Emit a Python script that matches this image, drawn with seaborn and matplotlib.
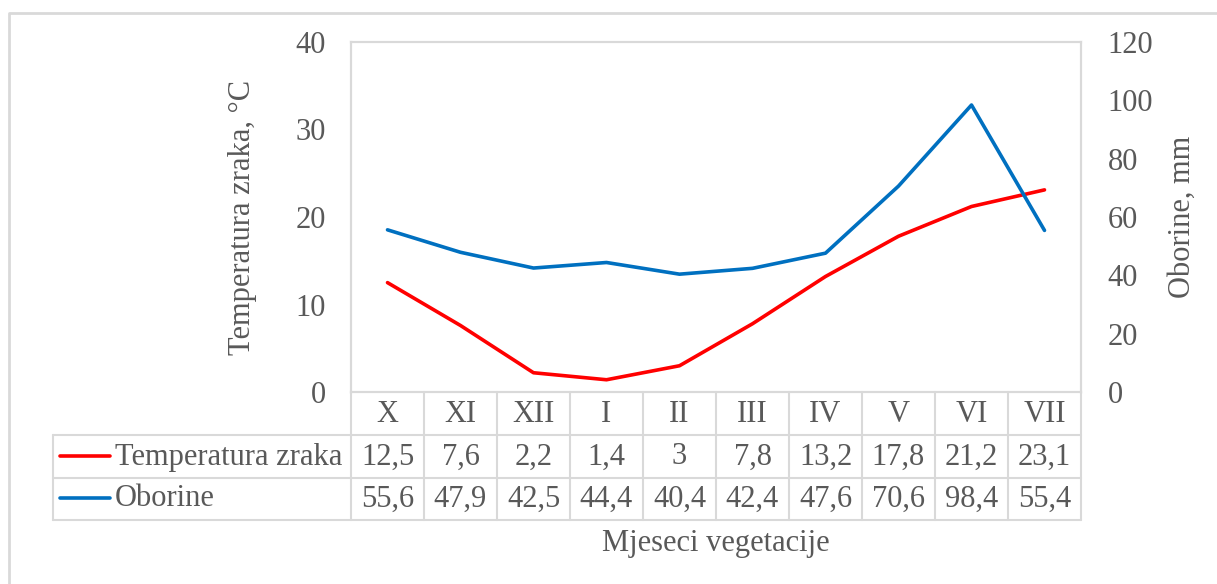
import matplotlib.pyplot as plt
import seaborn as sns
import pandas as pd
from matplotlib.lines import Line2D

# data
months = ['X', 'XI', 'XII', 'I', 'II', 'III', 'IV', 'V', 'VI', 'VII']
temperatura = [12.5, 7.6, 2.2, 1.4, 3, 7.8, 13.2, 17.8, 21.2, 23.1]
oborine = [55.6, 47.9, 42.5, 44.4, 40.4, 42.4, 47.6, 70.6, 98.4, 55.4]
temp_ticks = [0, 10, 20, 30, 40]
obor_ticks = [0, 20, 40, 60, 80, 100, 120]

RED = '#FF0000'
BLUE = '#0070C0'
TXT = '#595959'
GRID = '#D9D9D9'
FS = 22

sns.set_style('white')
plt.rcParams['font.family'] = ['Liberation Serif', 'DejaVu Serif']

W, H = 1217, 584
fig = plt.figure(figsize=(W / 100, H / 100), dpi=100)


def fx(px):
    return px / W


def fy(py):
    return 1 - py / H


left, right, top, bottom = 351, 1081, 42, 392
ax = fig.add_axes([fx(left), fy(bottom), fx(right - left), (bottom - top) / H])
ax2 = ax.twinx()

df = pd.DataFrame({'pos': range(len(months)), 'temp': temperatura, 'obor': oborine})
sns.lineplot(data=df, x='pos', y='temp', ax=ax, color=RED, linewidth=2.6)
sns.lineplot(data=df, x='pos', y='obor', ax=ax2, color=BLUE, linewidth=2.6)

ax.set_xlim(-0.5, len(months) - 0.5)
ax.set_ylim(0, 40)
ax2.set_ylim(0, 120)
ax.set_yticks(temp_ticks)
ax2.set_yticks(obor_ticks)
ax.set_xticks([])
ax.set_xlabel('')
ax.set_ylabel('Temperatura zraka, °C', fontsize=FS, color=TXT, labelpad=28)
ax2.set_ylabel('Oborine, mm', fontsize=FS, color=TXT, labelpad=11)
ax.tick_params(axis='y', labelsize=FS, labelcolor=TXT, length=0, pad=18)
ax2.tick_params(axis='y', labelsize=FS, labelcolor=TXT, length=0, pad=19)
for a in (ax, ax2):
    for s in a.spines.values():
        s.set_color(GRID)
        s.set_linewidth(1.5)

# data table below plot
col_w = (right - left) / len(months)
row_y = [392, 435, 478, 520]
tr = fig.transFigure


def hline(x0, x1, y):
    fig.add_artist(Line2D([fx(x0), fx(x1)], [fy(y), fy(y)], transform=tr, color=GRID, lw=1.5))


def vline(x, y0, y1):
    fig.add_artist(Line2D([fx(x), fx(x)], [fy(y0), fy(y1)], transform=tr, color=GRID, lw=1.5))


for y in row_y[1:]:
    hline(53, right, y)
for i in range(len(months) + 1):
    vline(left + i * col_w, 392, 520)
vline(53, 435, 520)

for i, m in enumerate(months):
    cx = left + (i + 0.5) * col_w
    fig.text(fx(cx), fy(414), m, ha='center', va='center', fontsize=FS, color=TXT)
    fig.text(fx(cx), fy(457), f'{temperatura[i]:g}'.replace('.', ','), ha='center', va='center',
             fontsize=FS, color=TXT)
    fig.text(fx(cx), fy(499), f'{oborine[i]:g}'.replace('.', ','), ha='center', va='center',
             fontsize=FS, color=TXT)

for yc, name, c in [(456, 'Temperatura zraka', RED), (498, 'Oborine', BLUE)]:
    fig.add_artist(Line2D([fx(60), fx(110)], [fy(yc), fy(yc)], transform=tr, color=c, lw=2.6))
    fig.text(fx(115), fy(yc + 1), name, ha='left', va='center', fontsize=FS, color=TXT)

fig.text(fx(716), fy(544), 'Mjeseci vegetacije', ha='center', va='center', fontsize=FS, color=TXT)

# outer chart border
fig.add_artist(Line2D([fx(9), fx(9), fx(W + 5)], [fy(H + 5), fy(13), fy(13)], transform=tr,
                      color=GRID, lw=2))

fig.savefig('out.png', dpi=100)
